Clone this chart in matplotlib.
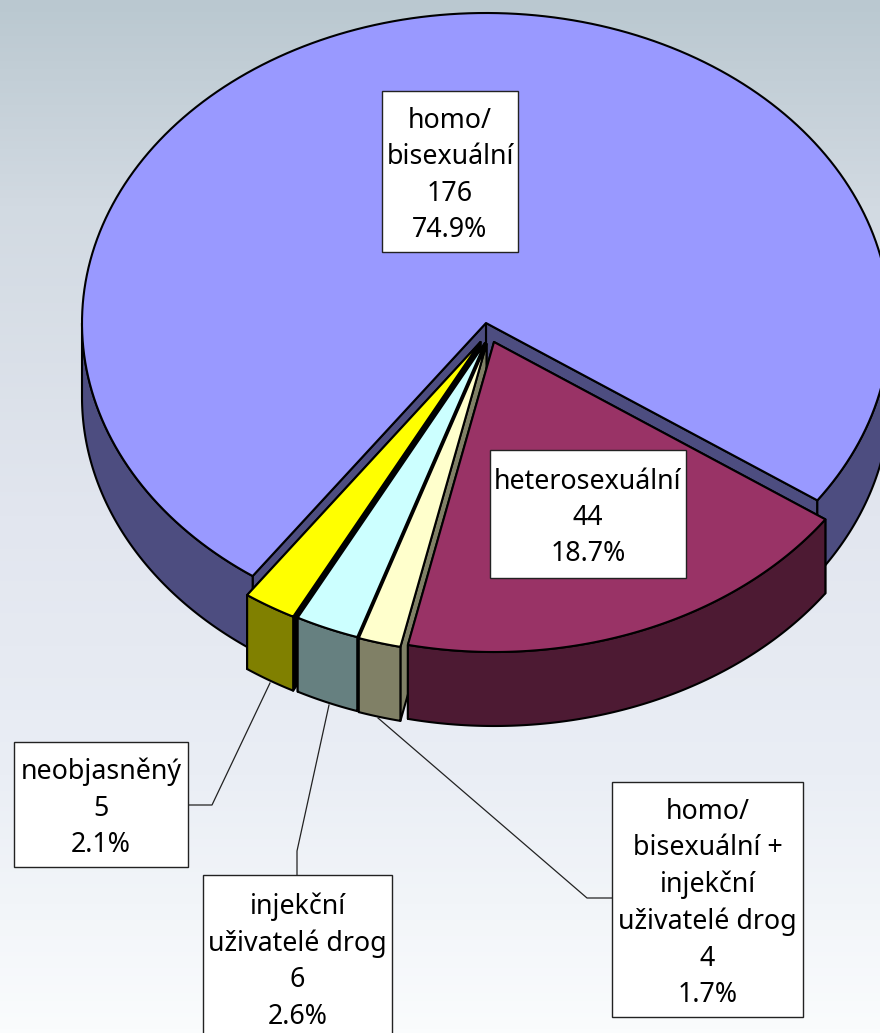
import matplotlib
matplotlib.use('Agg')
import matplotlib.pyplot as plt
from matplotlib.colors import LinearSegmentedColormap
from matplotlib.patches import Polygon, Rectangle
import numpy as np

# data
categories = ['heterosexuální', 'homo/\nbisexuální +\ninjekční\nuživatelé drog', 'injekční\nuživatelé drog',
              'neobjasněný', 'homo/\nbisexuální']
values = [44, 4, 6, 5, 176]
percents = ['18.7%', '1.7%', '2.6%', '2.1%', '74.9%']

top_colors = ['#993366', '#FFFFCC', '#CCFFFF', '#FFFF00', '#9999FF']
side_colors = ['#4D1A33', '#808066', '#668080', '#808000', '#4D4D80']

# slice geometry, in pixels of the picture
rx, ry, depth = 404, 310, 74
start_angle = 34.9
centers = [(494, 342), (486.5, 344), (485, 343), (480.5, 342), (486, 323)]

# label boxes: left, top, right, bottom
boxes = [(490, 450, 686, 578), (612, 782, 803, 1017), (203, 875, 392, 1040),
         (14, 742, 188, 867), (382, 91, 518, 252)]
leaders = [None,
           [(378, 718), (587, 898), (612, 898)],
           [(329, 705), (297, 851), (297, 875)],
           [(270, 683), (212, 805), (188, 805)],
           None]

plt.rcParams['font.family'] = ['Noto Sans', 'DejaVu Sans']

fig = plt.figure(figsize=(8.8, 10.33), dpi=100)
ax = fig.add_axes([0, 0, 1, 1])
ax.set_xlim(0, 880)
ax.set_ylim(1033, 0)
ax.axis('off')

# background gradient
bg = LinearSegmentedColormap.from_list('bg', [(0, '#BAC8D0'), (0.2, '#D2DAE2'), (0.5, '#E2E6EF'),
                                              (0.75, '#EAEEF5'), (1, '#FAFCFD')])
ax.imshow(np.linspace(0, 1, 256).reshape(-1, 1), cmap=bg, extent=(0, 880, 1033, 0), aspect='auto', zorder=0)


def rim(c, a0, a1):
    t = np.radians(np.linspace(a0, a1, 200))
    return np.column_stack([c[0] + rx * np.cos(t), c[1] + ry * np.sin(t)])


def down(pts):
    return pts + np.array([0, depth])


def add_poly(pts, color, z, lw=1.5):
    ax.add_patch(Polygon(pts, closed=True, facecolor=color, edgecolor='black', linewidth=lw,
                         joinstyle='round', zorder=z))


def draw_slice(c, a0, a1, top, side, z, front_ranges, gap_color):
    apex = np.array([c])
    # cut walls first, the end of the slice then the start
    for a, col in ((a1, side), (a0, gap_color)):
        p = rim(c, a, a)[:1]
        add_poly(np.vstack([apex, p, down(p), down(apex)]), col, z)
    # outer wall, only the parts that face the viewer
    for r0, r1 in front_ranges:
        arc = rim(c, r0, r1)
        add_poly(np.vstack([arc, down(arc)[::-1]]), side, z)
    add_poly(np.vstack([apex, rim(c, a0, a1)]), top, z)


shares = np.array(values) / sum(values) * 360
edges = start_angle + np.concatenate([[0], np.cumsum(shares)])

# big slice at the back, then the small ones, heterosexual on top
order = [4, 3, 2, 1, 0]
for z, i in enumerate(order, start=2):
    a0, a1 = edges[i], edges[i + 1]
    if i == 4:
        fronts = [(a0, 180), (360, a1)]
    else:
        fronts = [(a0, a1)]
    # the walls seen through the gaps between the thin slices look black
    gap_color = 'black' if i in (2, 3) else side_colors[i]
    draw_slice(centers[i], a0, a1, top_colors[i], side_colors[i], z, fronts, gap_color)

# leader lines
for line in leaders:
    if line is not None:
        xs, ys = zip(*line)
        ax.plot(xs, ys, color='#222222', linewidth=0.9, zorder=10)

# labels
for i in range(len(categories)):
    l, t, r, b = boxes[i]
    ax.add_patch(Rectangle((l, t), r - l, b - t, facecolor='white', edgecolor='#222222', linewidth=1.0, zorder=11))
    txt = categories[i] + '\n' + str(values[i]) + '\n' + percents[i]
    ax.text((l + r) / 2, (t + b) / 2 + 4, txt, ha='center', va='center', fontsize=19.3, color='black',
            linespacing=1.4, zorder=12)

fig.savefig('out.png', dpi=100)
